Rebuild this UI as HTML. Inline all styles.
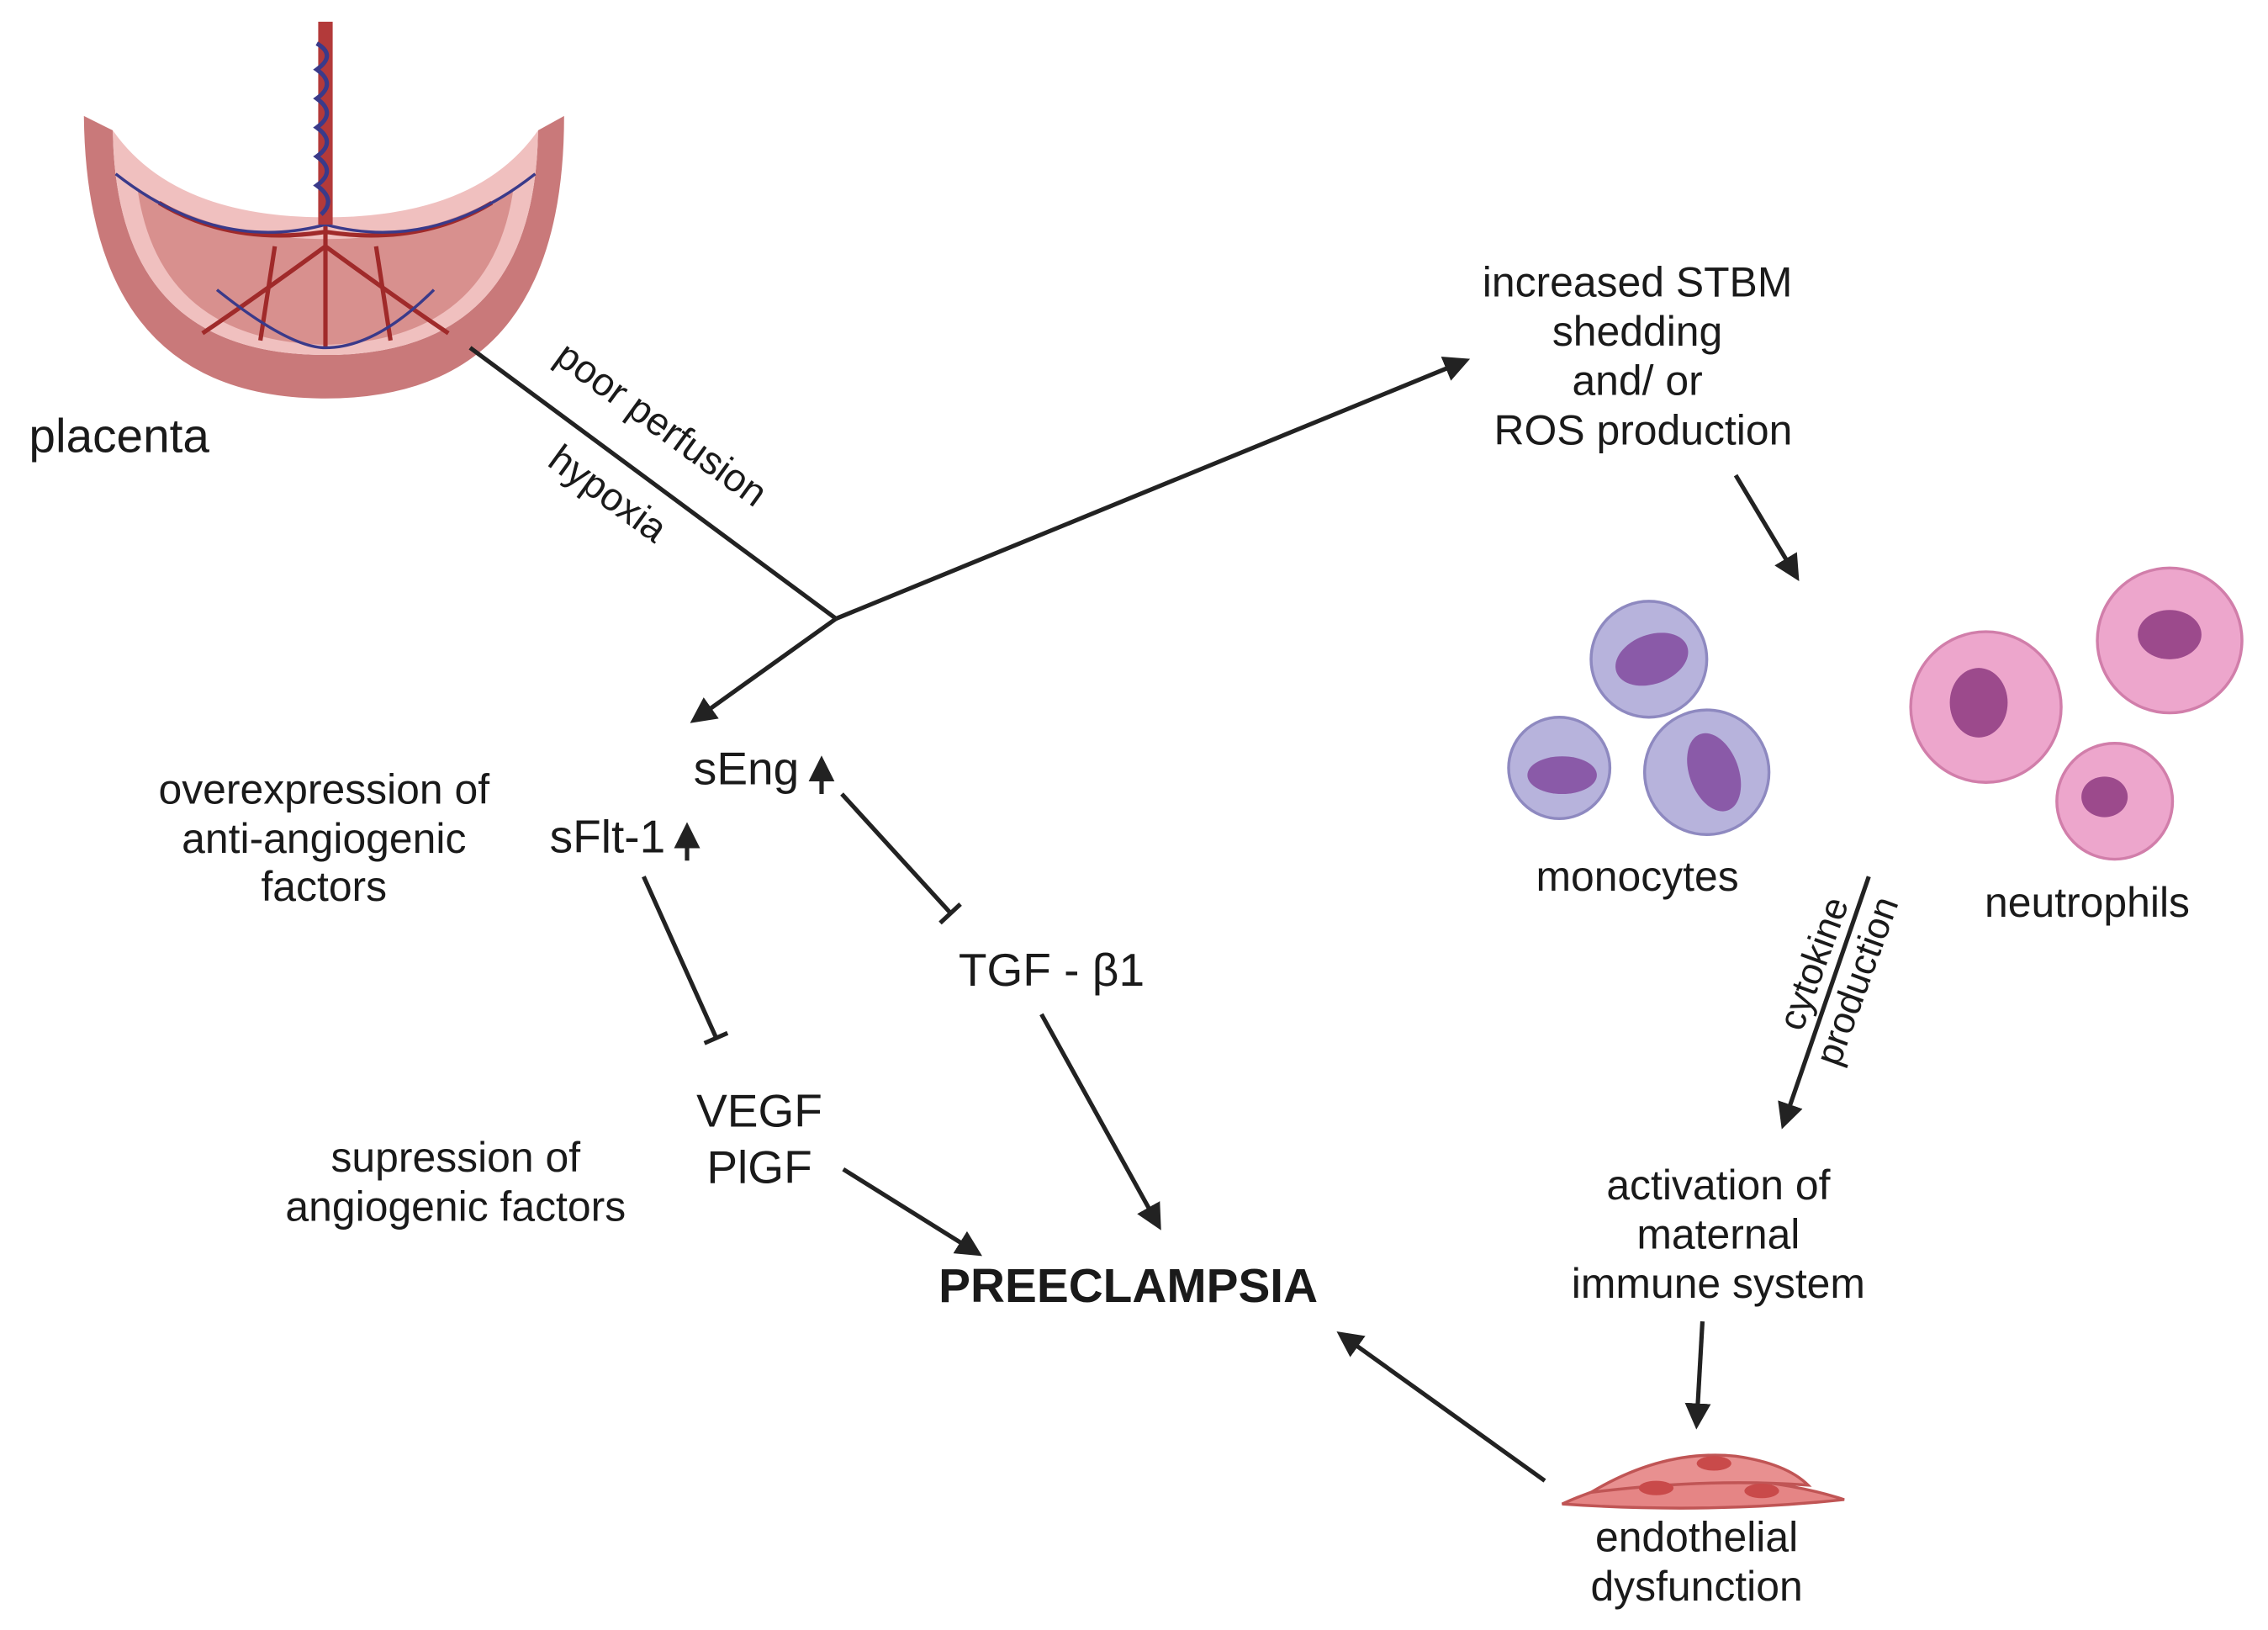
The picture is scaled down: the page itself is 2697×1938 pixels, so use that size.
<!DOCTYPE html>
<html><head><meta charset="utf-8"><style>html,body{margin:0;padding:0;background:#fff}svg{display:block}</style></head>
<body>
<svg width="2697" height="1938" viewBox="0 0 1568 1125" preserveAspectRatio="none" xmlns="http://www.w3.org/2000/svg" font-family="Liberation Sans, sans-serif" fill="#1a1a1a">
<defs>
<marker id="ah" viewBox="0 0 10 10" refX="8" refY="5" markerWidth="6" markerHeight="6" orient="auto"><path d="M0,0 L10,5 L0,10 z" fill="#222"/></marker>
</defs>
<!-- placenta -->
<path d="M58,80 Q60,275 225,275 Q390,275 390,80 L372,90 Q370,245 225,245 Q80,245 78,90 Z" fill="#c9797a"/>
<path d="M78,90 Q80,245 225,245 Q370,245 372,90 Q330,150 225,150 Q120,150 78,90 Z" fill="#f0c0bf"/>
<path d="M95,130 Q110,235 225,238 Q340,235 355,130 Q300,165 225,165 Q150,165 95,130 Z" fill="#d8908e"/>
<path d="M225,150 L225,240 M225,160 Q160,170 110,140 M225,160 Q290,170 340,140 M225,170 Q170,210 140,230 M225,170 Q280,210 310,230 M190,170 L180,235 M260,170 L270,235" stroke="#a02a2a" stroke-width="3" fill="none"/>
<path d="M225,155 Q150,175 80,120 M225,155 Q300,175 370,120 M150,200 Q200,240 225,240 Q260,240 300,200" stroke="#3a3a8a" stroke-width="2" fill="none"/>
<rect x="220" y="15" width="10" height="140" fill="#b33a3a"/>
<path d="M219,30 Q233,38 219,48 Q233,58 219,68 Q233,78 219,88 Q233,98 219,108 Q233,118 219,128 Q233,138 222,148" stroke="#3a3a8a" stroke-width="3" fill="none"/>
<text x="20" y="312" font-size="33">placenta</text>
<!-- lines -->
<g stroke="#222" stroke-width="3" fill="none">
<line x1="325" y1="240" x2="578" y2="427"/>
<line x1="578" y1="427" x2="1013" y2="249" marker-end="url(#ah)"/>
<line x1="578" y1="427" x2="480" y2="497" marker-end="url(#ah)"/>
<line x1="1200" y1="328" x2="1242" y2="398" marker-end="url(#ah)"/>
<line x1="582" y1="548" x2="657" y2="630"/><line x1="650" y1="637" x2="664" y2="624"/>
<line x1="445" y1="605" x2="495" y2="716"/><line x1="487" y1="720" x2="503" y2="713"/>
<line x1="583" y1="807" x2="676" y2="865" marker-end="url(#ah)"/>
<line x1="720" y1="700" x2="801" y2="846" marker-end="url(#ah)"/>
<line x1="1292" y1="605" x2="1233" y2="776" marker-end="url(#ah)"/>
<line x1="1177" y1="912" x2="1173" y2="983" marker-end="url(#ah)"/>
<line x1="1068" y1="1022" x2="927" y2="921" marker-end="url(#ah)"/>
</g>
<text font-size="27" transform="translate(452,300) rotate(36)" text-anchor="middle">poor perfusion</text>
<text font-size="27" transform="translate(415,348) rotate(36)" text-anchor="middle">hypoxia</text>
<g font-size="29" text-anchor="middle" dominant-baseline="middle">
<text x="1132" y="197">increased STBM</text><text x="1132" y="231">shedding</text><text x="1132" y="265">and/ or</text><text x="1136" y="299">ROS production</text>
<text x="1132" y="607">monocytes</text><text x="1443" y="625">neutrophils</text>
<text x="224" y="547">overexpression of</text><text x="224" y="581">anti-angiogenic</text><text x="224" y="614">factors</text>
<text x="727" y="672" font-size="32">TGF - β1</text>
<text x="525" y="769" font-size="32">VEGF</text><text x="525" y="808" font-size="32">PlGF</text>
<text x="315" y="801">supression of</text><text x="315" y="835">angiogenic factors</text>
<text x="780" y="890" font-size="33" font-weight="bold">PREECLAMPSIA</text>
<text x="1188" y="820">activation of</text><text x="1188" y="854">maternal</text><text x="1188" y="888">immune system</text>
<text x="1173" y="1063">endothelial</text><text x="1173" y="1097">dysfunction</text>
<text x="516" y="533" font-size="32">sEng</text><text x="420" y="580" font-size="32">sFlt-1</text>
</g>
<g stroke="#222" stroke-width="3"><line x1="568" y1="548" x2="568" y2="525" marker-end="url(#ah)"/><line x1="475" y1="594" x2="475" y2="571" marker-end="url(#ah)"/></g>
<text font-size="26" transform="translate(1262,668) rotate(-70)" text-anchor="middle">cytokine</text>
<text font-size="26" transform="translate(1292,680) rotate(-70)" text-anchor="middle">production</text>
<!-- monocytes -->
<g fill="#b7b3dc" stroke="#8e89c0" stroke-width="2">
<circle cx="1140" cy="455" r="40"/><circle cx="1078" cy="530" r="35"/><circle cx="1180" cy="533" r="43"/></g>
<g fill="#8a5aa8"><ellipse cx="1142" cy="455" rx="26" ry="17" transform="rotate(-20 1142 455)"/><ellipse cx="1080" cy="535" rx="24" ry="13"/><ellipse cx="1185" cy="533" rx="17" ry="28" transform="rotate(-20 1185 533)"/></g>
<!-- neutrophils -->
<g fill="#eda6cc" stroke="#d17eaa" stroke-width="2">
<circle cx="1373" cy="488" r="52"/><circle cx="1500" cy="442" r="50"/><circle cx="1462" cy="553" r="40"/></g>
<g fill="#9c4a8c"><ellipse cx="1368" cy="485" rx="20" ry="24"/><ellipse cx="1500" cy="438" rx="22" ry="17"/><ellipse cx="1455" cy="550" rx="16" ry="14"/></g>
<!-- endothelial -->
<path d="M1080,1038 Q1130,1015 1180,1020 Q1235,1022 1275,1035 Q1180,1045 1080,1038 Z" fill="#e58585" stroke="#c05555" stroke-width="2"/>
<path d="M1100,1030 Q1150,1000 1200,1005 Q1235,1010 1250,1025 Q1180,1020 1100,1030 Z" fill="#e89090" stroke="#c05555" stroke-width="2"/>
<g fill="#c94a4a"><ellipse cx="1145" cy="1027" rx="12" ry="5"/><ellipse cx="1185" cy="1010" rx="12" ry="5"/><ellipse cx="1218" cy="1029" rx="12" ry="5"/></g>
</svg>
</body></html>
